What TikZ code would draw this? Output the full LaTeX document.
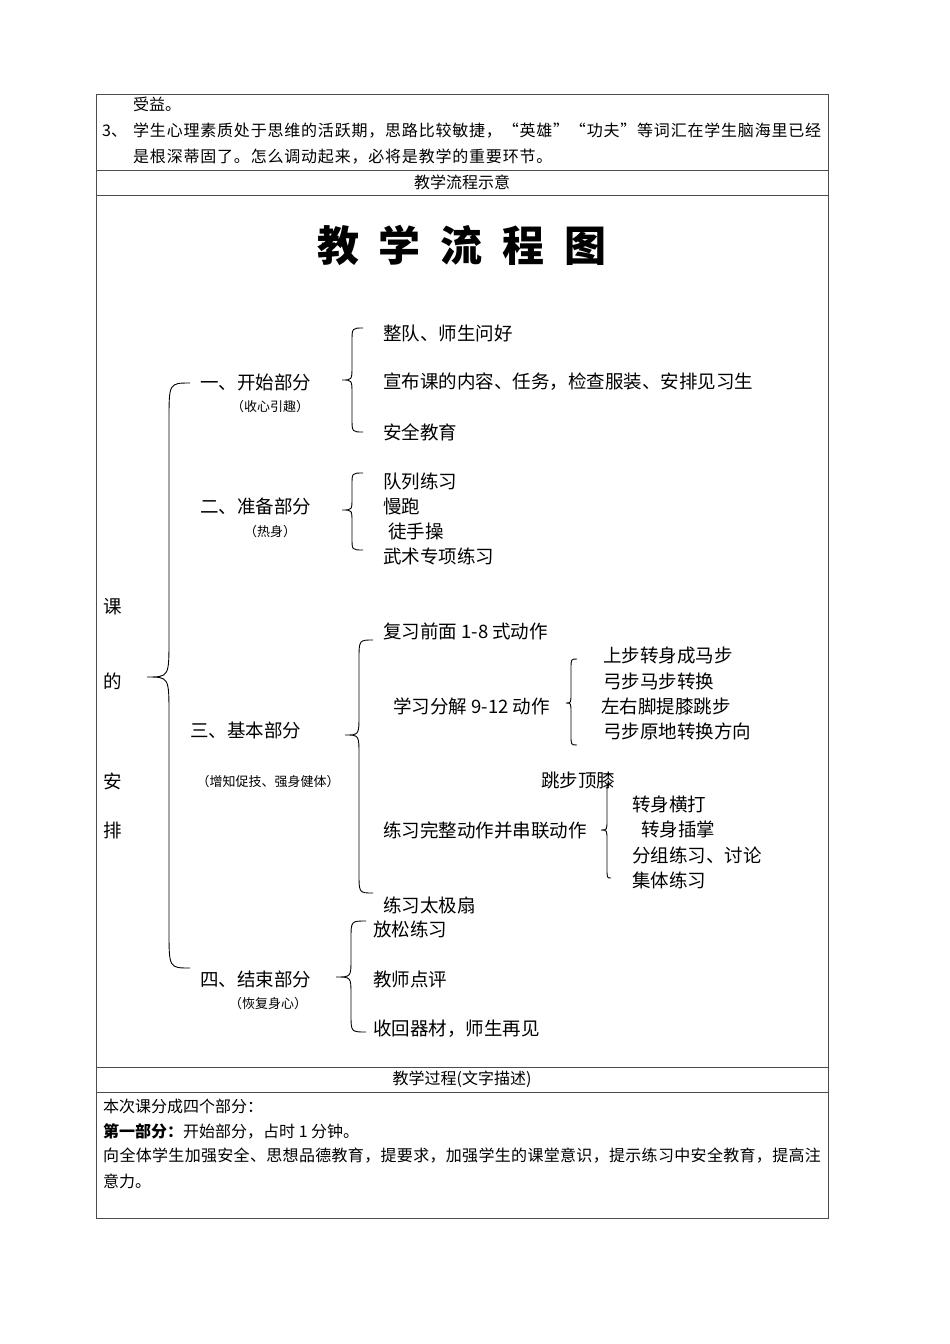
\documentclass[tikz,border=0pt]{standalone}
\usepackage{fontspec}
\setmainfont{Noto Sans CJK SC}
\usetikzlibrary{positioning}

% ends x, spine x, tip x, top y, tip y, bottom y, bend
\newcommand{\drawbrace}[7]{%
  \draw[curly] (#1,#4) .. controls (#2,#4) .. (#2,#4+#7) -- (#2,#5-#7)
    .. controls (#2,#5) .. (#3,#5) .. controls (#2,#5) .. (#2,#5+#7)
    -- (#2,#6-#7) .. controls (#2,#6) .. (#1,#6);}

\begin{document}
\begin{tikzpicture}[x=1pt, y=-1pt,
    rule/.style={draw=black!70, line width=0.8pt},
    curly/.style={line width=0.9pt},
    body/.style={anchor=west, inner sep=0pt, font=\fontsize{16}{16}\selectfont},
    head/.style={inner sep=0pt, font=\fontsize{16}{16}\selectfont},
    item/.style={anchor=west, inner sep=0pt, font=\fontsize{18.5}{18.5}\selectfont},
    note/.style={inner sep=0pt, font=\fontsize{13}{13}\selectfont}]
  \useasboundingbox (0,0) rectangle (950,1344);

  % table frame
  \draw[rule] (96,94) rectangle (828,1218);
  \draw[rule] (96,170) -- (828,170);
  \draw[rule] (96,195) -- (828,195);
  \draw[rule] (96,1067) -- (828,1067);
  \draw[rule] (96,1092) -- (828,1092);

  % top rows
  \node[body] (t1) at (133,104) {受益。};
  \node[body] (t2n) at (102,131) {3、};
  \node[body] (t2) at (133,131) {\addfontfeature{LetterSpace=5}学生心理素质处于思维的活跃期，思路比较敏捷，“英雄”“功夫”等词汇在学生脑海里已经};
  \node[body] (t3) at (133,157) {\addfontfeature{LetterSpace=5}是根深蒂固了。怎么调动起来，必将是教学的重要环节。};
  \node[head] (h1) at (462,182) {教学流程示意};

  % title
  \node[inner sep=0pt, font=\fontsize{42}{42}\selectfont\bfseries] (title) at (462,245)
    {教\hspace{20pt}学\hspace{20pt}流\hspace{20pt}程\hspace{20pt}图};

  % left column
  \node[item, anchor=center] (k1) at (113,607) {课};
  \node[item, anchor=center] (k2) at (113,681) {的};
  \node[item, anchor=center] (k3) at (113,781) {安};
  \node[item, anchor=center] (k4) at (113,830) {排};
  \drawbrace{190}{169}{147}{383}{677}{968}{38}

  % part one
  \node[item] (p1) at (200,382) {一、开始部分};
  \node[note] (p1n) at (270,407) {（收心引趣）};
  \drawbrace{363}{352}{342}{328}{380}{432}{14}
  \node[item] (a1) at (383,333) {整队、师生问好};
  \node[item] (a2) at (383,382) {宣布课的内容、任务，检查服装、安排见习生};
  \node[item] (a3) at (383,432) {安全教育};

  % part two
  \node[item] (p2) at (200,506) {二、准备部分};
  \node[note] (p2n) at (270,532) {（热身）};
  \drawbrace{363}{352}{342}{473}{510}{550}{12}
  \node[item] (b1) at (383,481) {队列练习};
  \node[item] (b2) at (383,506) {慢跑};
  \node[item] (b3) at (388,531) {徒手操};
  \node[item] (b4) at (383,556) {武术专项练习};

  % part three
  \node[item] (p3) at (190,730) {三、基本部分};
  \node[note] (p3n) at (268,782) {（增知促技、强身健体）};
  \drawbrace{373}{359}{345}{640}{735}{893}{20}
  \node[item] (c1) at (383,631) {复习前面 1-8 式动作};
  \node[item] (c2) at (393,706) {学习分解 9-12 动作};
  \drawbrace{577}{571}{566}{659}{703}{745}{10}
  \node[item] (d1) at (603,656) {上步转身成马步};
  \node[item] (d2) at (603,681) {弓步马步转换};
  \node[item] (d3) at (601,706) {左右脚提膝跳步};
  \node[item] (d4) at (603,731) {弓步原地转换方向};
  \node[item] (e0) at (541,780) {跳步顶膝};
  \node[item] (c3) at (383,830) {练习完整动作并串联动作};
  \drawbrace{611}{607}{601}{783}{830}{878}{10}
  \node[item] (e1) at (632,805) {转身横打};
  \node[item] (e2) at (641,830) {转身插掌};
  \node[item] (e3) at (632,855) {分组练习、讨论};
  \node[item] (e4) at (632,880) {集体练习};
  \node[item] (c4) at (383,905) {练习太极扇};

  % part four
  \node[item] (p4) at (200,979) {四、结束部分};
  \node[note] (p4n) at (268,1004) {（恢复身心）};
  \drawbrace{366}{351}{336}{921}{977}{1032}{18}
  \node[item] (f1) at (373,929) {放松练习};
  \node[item] (f2) at (373,979) {教师点评};
  \node[item] (f3) at (373,1029) {收回器材，师生再见};

  % description
  \node[head] (h2) at (462,1079) {教学过程(文字描述)};
  \node[body] (s1) at (103,1106) {本次课分成四个部分：};
  \node[body] (s2) at (103,1131) {\textbf{第一部分：}开始部分，占时 1 分钟。};
  \node[body] (s3) at (103,1156) {\addfontfeature{LetterSpace=2}向全体学生加强安全、思想品德教育，提要求，加强学生的课堂意识，提示练习中安全教育，提高注};
  \node[body] (s4) at (103,1181) {意力。};
\end{tikzpicture}
\end{document}
